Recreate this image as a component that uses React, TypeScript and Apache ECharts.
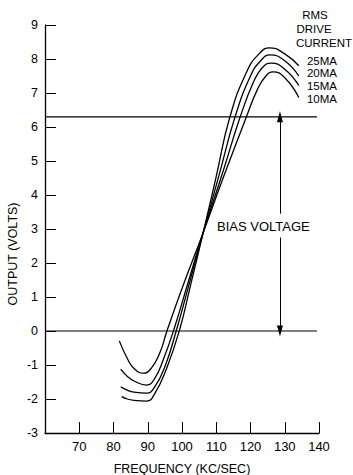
import React, { useEffect, useRef } from "react";
import * as echarts from "echarts";

// axis ranges / ticks
const xMin = 60;
const xMax = 140;
const xStep = 10;
const yMin = -3;
const yMax = 9;
const yStep = 1;

// curves: frequency (kc/sec) and output (volts) for each RMS drive current
const freq25 = [82.4, 84, 86, 89.7, 92, 95.5, 99.2, 102.5, 106.2, 110, 114, 119, 122.5, 125.5, 130, 134.1];
const out25 = [-1.93, -2.0, -2.04, -2.06, -1.85, -1.1, 0, 1.35, 2.9, 4.55, 6.3, 7.65, 8.15, 8.33, 8.15, 7.8];

const freq20 = [82.1, 84, 86, 89.7, 92, 95, 98.3, 102, 106.2, 111, 115.5, 120, 123, 125.7, 130, 134.1];
const out20 = [-1.64, -1.74, -1.8, -1.83, -1.65, -1.05, 0, 1.35, 2.9, 4.65, 6.3, 7.5, 7.95, 8.12, 7.95, 7.5];

const freq15 = [82.1, 84, 86, 89.7, 92, 94.5, 97.5, 102, 106.2, 112, 117, 121, 123.5, 126, 130, 134.1];
const out15 = [-1.12, -1.33, -1.47, -1.59, -1.4, -0.85, 0, 1.5, 2.9, 4.7, 6.3, 7.35, 7.75, 7.88, 7.7, 7.22];

const freq10 = [81.7, 84, 86, 88.7, 91, 93.5, 95.6, 100, 106.2, 112, 118.8, 122, 124.5, 126.6, 130, 134.1];
const out10 = [-0.29, -0.8, -1.1, -1.24, -1.1, -0.65, 0, 1.25, 2.9, 4.5, 6.3, 7.1, 7.5, 7.62, 7.45, 6.87];

const curveNames = ["25MA", "20MA", "15MA", "10MA"];
const curveFreqs = [freq25, freq20, freq15, freq10];
const curveOuts = [out25, out20, out15, out10];

// reference levels
const zeroLevel = 0;
const biasLevel = 6.3;
const refLineStart = 60;
const refLineEnd = 139.4;
const arrowFreq = 128.6;
const gapLow = 2.75;
const gapHigh = 3.45;

const FONT = "Liberation Sans";

export default function App() {
  const ref = useRef<HTMLDivElement>(null);

  useEffect(() => {
    const chart = echarts.init(ref.current!, null, { renderer: "svg" });

    const curveSeries = curveNames.map((name, i) => ({
      name,
      type: "line",
      data: curveFreqs[i].map((f, j) => [f, curveOuts[i][j]]),
      smooth: true,
      symbol: "none",
      silent: true,
      lineStyle: { color: "#000", width: 1.3 },
    }));

    const option: any = {
      animation: false,
      backgroundColor: "#fff",
      grid: { left: 45, right: 34, top: 25, bottom: 42, containLabel: false, outerBoundsMode: "none" },
      xAxis: {
        type: "value",
        min: xMin,
        max: xMax,
        interval: xStep,
        name: "FREQUENCY (KC/SEC)",
        nameLocation: "middle",
        nameGap: 29,
        nameTextStyle: { color: "#000", fontSize: 12.5, fontFamily: FONT },
        axisLine: { show: true, onZero: false, lineStyle: { color: "#000", width: 1.3 } },
        axisTick: { show: true, inside: true, length: 11, lineStyle: { color: "#000", width: 1 } },
        axisLabel: {
          color: "#000",
          fontSize: 13,
          fontFamily: FONT,
          margin: 7,
          formatter: (v: number) => (v === xMin ? "" : String(v)),
        },
        splitLine: { show: false },
      },
      yAxis: {
        type: "value",
        min: yMin,
        max: yMax,
        interval: yStep,
        axisLine: { show: true, onZero: false, lineStyle: { color: "#000", width: 1.3 } },
        axisTick: { show: true, inside: true, length: 11, lineStyle: { color: "#000", width: 1 } },
        axisLabel: { color: "#000", fontSize: 12.5, fontFamily: FONT, margin: 7 },
        splitLine: { show: false },
      },
      series: [
        ...curveSeries,
        {
          type: "line",
          data: [
            [refLineStart, zeroLevel],
            [refLineEnd, zeroLevel],
          ],
          symbol: "none",
          silent: true,
          lineStyle: { color: "#000", width: 1.2 },
        },
        {
          type: "line",
          data: [
            [refLineStart, biasLevel],
            [refLineEnd, biasLevel],
          ],
          symbol: "none",
          silent: true,
          lineStyle: { color: "#000", width: 1.2 },
          markLine: {
            silent: true,
            symbol: ["none", "triangle"],
            symbolSize: [6, 11],
            label: { show: false },
            lineStyle: { color: "#000", width: 1, type: "solid" },
            emphasis: { disabled: true },
            data: [
              [{ coord: [arrowFreq, gapHigh] }, { coord: [arrowFreq, biasLevel] }],
              [{ coord: [arrowFreq, gapLow] }, { coord: [arrowFreq, zeroLevel] }],
            ],
          },
        },
      ],
      graphic: [
        {
          type: "text",
          x: 13,
          y: 254,
          rotation: Math.PI / 2,
          style: {
            text: "OUTPUT (VOLTS)",
            fill: "#000",
            font: `12.5px "${FONT}"`,
            align: "center",
            verticalAlign: "middle",
          },
        },
        {
          type: "text",
          x: 217,
          y: 226,
          style: { text: "BIAS VOLTAGE", fill: "#000", font: `13px "${FONT}"`, align: "left", verticalAlign: "middle" },
        },
        {
          type: "text",
          x: 315,
          y: 15,
          style: { text: "RMS", fill: "#000", font: `11.5px "${FONT}"`, align: "center", verticalAlign: "middle" },
        },
        {
          type: "text",
          x: 314,
          y: 29,
          style: { text: "DRIVE", fill: "#000", font: `11.5px "${FONT}"`, align: "center", verticalAlign: "middle" },
        },
        {
          type: "text",
          x: 324,
          y: 43,
          style: { text: "CURRENT", fill: "#000", font: `11.5px "${FONT}"`, align: "center", verticalAlign: "middle" },
        },
        ...curveNames.map((name, i) => ({
          type: "text",
          x: 337,
          y: [61, 73, 86, 99][i],
          style: { text: name, fill: "#000", font: `11.5px "${FONT}"`, align: "right", verticalAlign: "middle" },
        })),
      ],
    };

    chart.setOption(option);
    return () => chart.dispose();
  }, []);

  return (
    <div
      ref={ref}
      style={{ position: "absolute", left: 0, top: 0, width: 353, height: 475, background: "#fff" }}
    />
  );
}
